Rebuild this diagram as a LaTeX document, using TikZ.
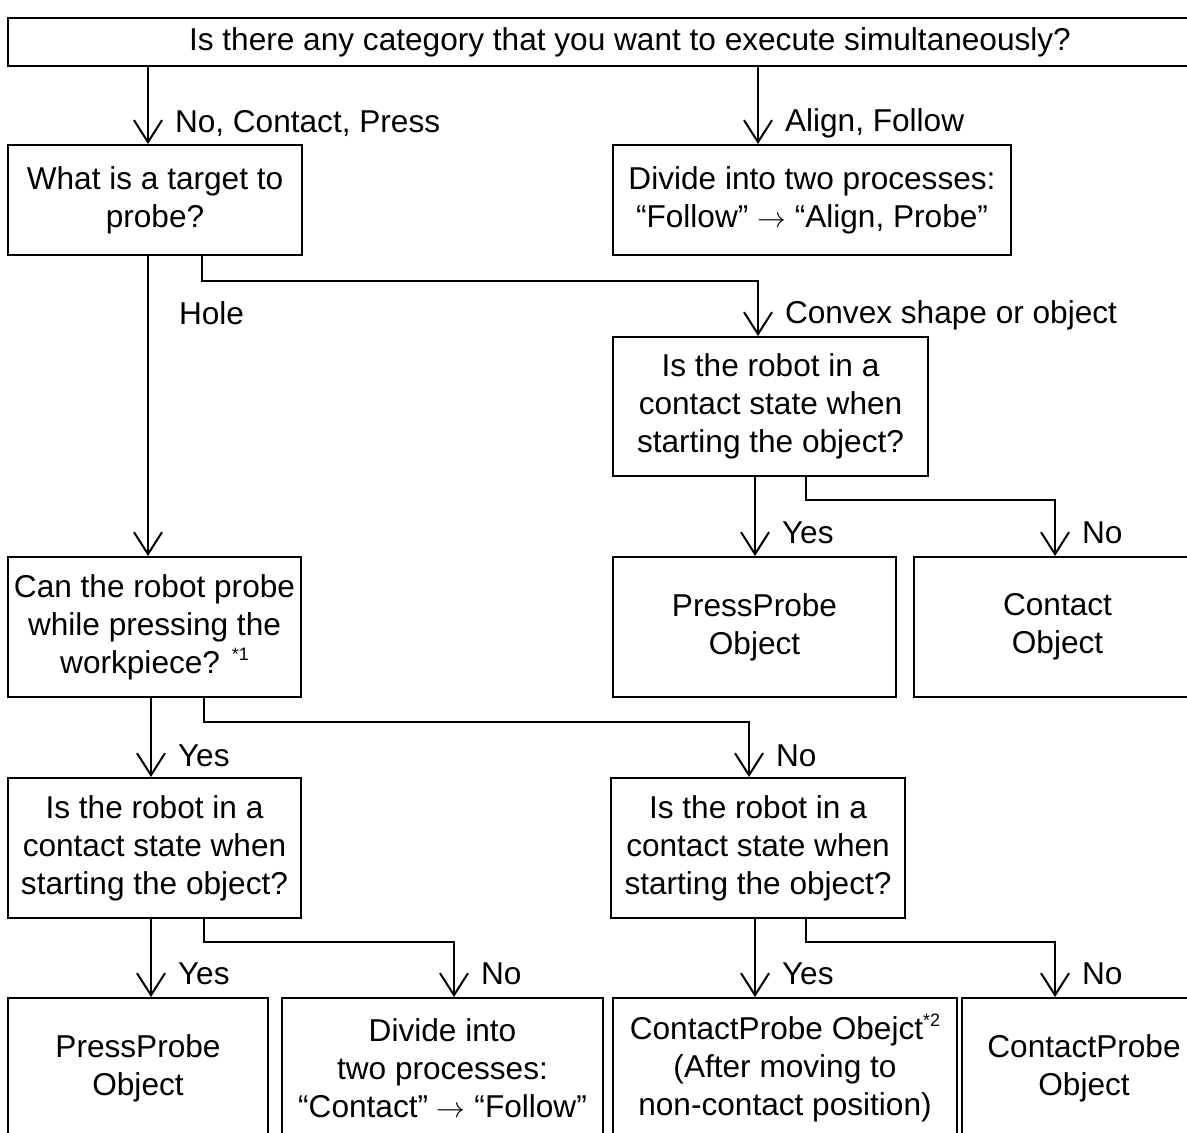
\documentclass[tikz,border=0pt]{standalone}
\usepackage{fontspec}
\setmainfont{Liberation Sans}
\usetikzlibrary{arrows.meta}
\newcommand{\notemark}[1]{\raisebox{6.5pt}{\fontsize{9pt}{9pt}\selectfont #1}}

\begin{document}
\begin{tikzpicture}[x=0.5pt, y=-0.5pt, line width=1pt, >={Straight Barb[length=11pt, width=14pt]},
  font=\fontsize{15.8pt}{19pt}\selectfont,
  box/.style={draw, inner sep=0pt, align=center, minimum height=70pt},
  lbl/.style={anchor=west, inner sep=0pt, xshift=13pt}]
  \useasboundingbox (0,0) rectangle (1187,1132);
  \clip (0,0) rectangle (1187,1132);

  % Bloky
  \node[box, minimum width=622pt, minimum height=24pt] (top) at (630,42) {Is there any category that you want to execute simultaneously?};
  \node[box, minimum width=147pt, minimum height=55pt] (target) at (155,200) {What is a target to\\probe?};
  \node[box, minimum width=199pt, minimum height=55pt] (splitA) at (812,200) {Divide into two processes:\\“Follow” \(\rightarrow\) “Align, Probe”};
  \node[box, minimum width=157.5pt, minimum height=69.5pt] (contR) at (770.5,406.5) {Is the robot in a\\contact state when\\starting the object?};
  \node[box, minimum width=141.5pt] (pressA) at (754.5,627) {PressProbe\\Object};
  \node[box, minimum width=143.5pt] (contactA) at (1057.5,627) {Contact\\Object};
  \node[box, minimum width=146.5pt] (canpress) at (154.5,627) {Can the robot probe\\while pressing the\\workpiece? \notemark{*1}};
  \node[box, minimum width=146.5pt] (contL) at (154.5,848) {Is the robot in a\\contact state when\\starting the object?};
  \node[box, minimum width=147pt] (contM) at (758,848) {Is the robot in a\\contact state when\\starting the object?};
  \node[box, minimum width=130pt] (pressB) at (138,1068) {PressProbe\\Object};
  \node[box, minimum width=160.5pt] (splitB) at (442.5,1068) {Divide into\\two processes:\\“Contact” \(\rightarrow\) “Follow”};
  \node[box, minimum width=172pt] (cprobeA) at (785,1068) {ContactProbe Obejct\notemark{*2}\\(After moving to\\non-contact position)};
  \node[box, minimum width=122pt] (cprobeB) at (1084,1068) {ContactProbe\\Object};

  % Propojeni
  \draw[->] (top.south -| 148,0) -- node[lbl, pos=0.73] {No, Contact, Press} (target.north -| 148,0);
  \draw[->] (top.south -| 758,0) -- node[lbl, pos=0.73] {Align, Follow} (splitA.north -| 758,0);
  \draw[->] (target.south -| 148,0) -- node[lbl, pos=0.19, xshift=2pt] {Hole} (canpress.north -| 148,0);
  \draw[->] (target.south -| 202,0) -- (202,281) -- (758,281) -- node[lbl, pos=0.62] {Convex shape or object} (contR.north -| 758,0);
  \draw[->] (contR.south -| 755,0) -- node[lbl, pos=0.7] {Yes} (pressA.north -| 755,0);
  \draw[->] (contR.south -| 806,0) -- (806,500) -- (1055,500) -- node[lbl, pos=0.58] {No} (contactA.north -| 1055,0);
  \draw[->] (canpress.south -| 151,0) -- node[lbl, pos=0.73] {Yes} (contL.north -| 151,0);
  \draw[->] (canpress.south -| 204,0) -- (204,722) -- (749,722) -- node[lbl, pos=0.61] {No} (contM.north -| 749,0);
  \draw[->] (contL.south -| 151,0) -- node[lbl, pos=0.7] {Yes} (pressB.north -| 151,0);
  \draw[->] (contL.south -| 204,0) -- (204,942) -- (454,942) -- node[lbl, pos=0.57] {No} (splitB.north -| 454,0);
  \draw[->] (contM.south -| 755,0) -- node[lbl, pos=0.7] {Yes} (cprobeA.north -| 755,0);
  \draw[->] (contM.south -| 806,0) -- (806,942) -- (1055,942) -- node[lbl, pos=0.57] {No} (cprobeB.north -| 1055,0);
\end{tikzpicture}
\end{document}
